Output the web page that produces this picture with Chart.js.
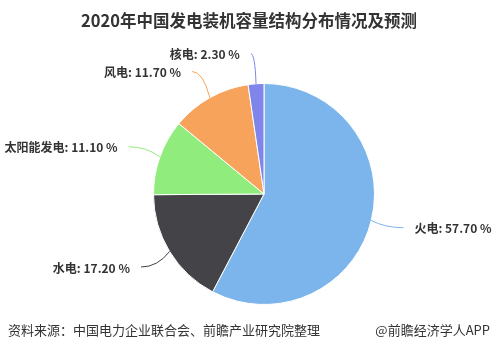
<!DOCTYPE html>
<html>
<head>
<meta charset="utf-8">
<script src="https://cdn.jsdelivr.net/npm/chart.js@4.4.1/dist/chart.umd.min.js"></script>
<style>
   body { margin: 0; background: #fff; font-family: 'Noto Sans CJK SC', sans-serif; }
   #wrap { position: relative; width: 498px; height: 351px; overflow: hidden; }
   #title { position: absolute; left: 0; top: 8px; width: 498px; text-align: center; font-size: 16.5px; font-weight: bold; color: #333; }
   #src { position: absolute; left: 8px; top: 320px; font-size: 13px; color: #333; }
   #brand { position: absolute; right: 8px; top: 320px; font-size: 13px; color: #333; }
   canvas { position: absolute; left: 0; top: 0; }
</style>
</head>
<body>
<div id="wrap">
   <canvas id="pie" width="498" height="351"></canvas>
   <div id="title">2020年中国发电装机容量结构分布情况及预测</div>
   <div id="src">资料来源：中国电力企业联合会、前瞻产业研究院整理</div>
   <div id="brand">@前瞻经济学人APP</div>
</div>
<script>
// Capacity share by source (%)
const categories = ['火电', '水电', '太阳能发电', '风电', '核电'];
const shares = [57.70, 17.20, 11.10, 11.70, 2.30];
const colors = ['#7cb5ec', '#434348', '#90ed7d', '#f7a35c', '#8085e9'];

// Highcharts-style outside labels with connectors
const outsideLabels = {
   id: 'outsideLabels',
   afterDatasetsDraw: function (chart) {
      const ctx = chart.ctx;
      const meta = chart.getDatasetMeta(0);
      ctx.save();
      ctx.font = "bold 12px 'Noto Sans CJK SC', sans-serif";
      ctx.textBaseline = 'middle';
      meta.data.forEach((arc, i) => {
         const mid = (arc.startAngle + arc.endAngle) / 2;
         const r = arc.outerRadius;
         const cos = Math.cos(mid), sin = Math.sin(mid);
         const ex = arc.x + r * cos, ey = arc.y + r * sin;
         const side = cos >= 0 ? 1 : -1;
         const ax = arc.x + (r + 30) * cos + side * 3;
         const ay = arc.y + (r + 30) * sin;
         const qx = arc.x + (r + 14) * cos;

         ctx.strokeStyle = colors[i];
         ctx.lineWidth = 1;
         ctx.beginPath();
         ctx.moveTo(ex, ey);
         ctx.quadraticCurveTo(qx, ay, ax, ay);
         ctx.stroke();

         ctx.fillStyle = '#333';
         ctx.textAlign = side > 0 ? 'left' : 'right';
         const text = categories[i] + ': ' + shares[i].toFixed(2) + ' %';
         ctx.fillText(text, ax + side * 11, ay + 1);
      });
      ctx.restore();
   }
};

new Chart(document.getElementById('pie'), {
   type: 'pie',
   data: {
      labels: categories,
      datasets: [{
         data: shares,
         backgroundColor: colors,
         borderColor: '#fff',
         borderWidth: 1
      }]
   },
   options: {
      responsive: false,
      animation: false,
      layout: { padding: { left: 153, right: 123, top: 83, bottom: 46 } },
      plugins: {
         legend: { display: false },
         tooltip: { enabled: false },
         title: { display: false }
      }
   },
   plugins: [outsideLabels]
});
</script>
</body>
</html>
